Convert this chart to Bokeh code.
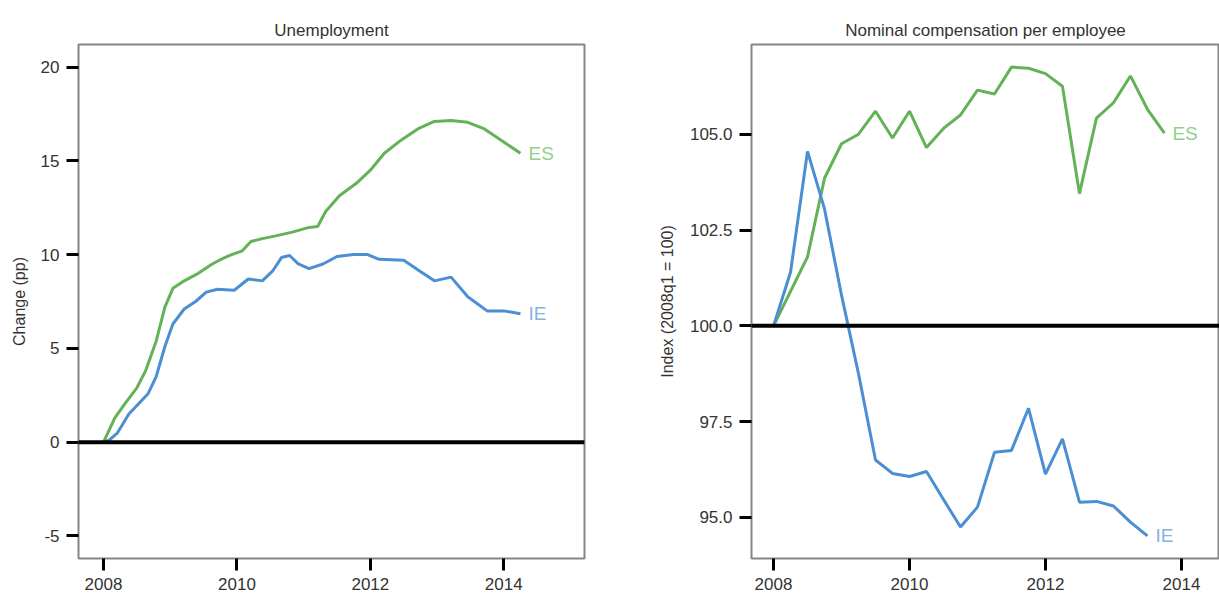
from bokeh.plotting import figure
from bokeh.layouts import row
from bokeh.models import FixedTicker, NumeralTickFormatter, Span, Range1d
from bokeh.embed import file_html
from bokeh.resources import INLINE
from bokeh.core.properties import value

# ---- Unemployment (change since 2008m1, pp) ----
es_u_t = [2008.00, 2008.17, 2008.33, 2008.50, 2008.63, 2008.79, 2008.92, 2009.04, 2009.21,
          2009.42, 2009.63, 2009.79, 2009.92, 2010.08, 2010.21, 2010.38, 2010.58, 2010.83,
          2011.08, 2011.21, 2011.33, 2011.54, 2011.79, 2012.00, 2012.21, 2012.46, 2012.71,
          2012.96, 2013.21, 2013.46, 2013.71, 2013.96, 2014.25]
es_u_v = [0.0, 1.3, 2.1, 2.9, 3.8, 5.4, 7.2, 8.2, 8.6,
          9.0, 9.5, 9.8, 10.0, 10.2, 10.7, 10.85, 11.0, 11.2,
          11.45, 11.5, 12.3, 13.15, 13.8, 14.5, 15.4, 16.1, 16.7,
          17.1, 17.15, 17.05, 16.7, 16.1, 15.4]
ie_u_t = [2008.00, 2008.08, 2008.21, 2008.38, 2008.54, 2008.67, 2008.79, 2008.92, 2009.04,
          2009.21, 2009.38, 2009.54, 2009.71, 2009.96, 2010.17, 2010.38, 2010.54, 2010.67,
          2010.79, 2010.92, 2011.08, 2011.29, 2011.50, 2011.75, 2011.96, 2012.13, 2012.50,
          2012.75, 2012.96, 2013.21, 2013.46, 2013.75, 2014.00, 2014.25]
ie_u_v = [0.0, 0.1, 0.5, 1.5, 2.1, 2.6, 3.5, 5.1, 6.3,
          7.1, 7.5, 8.0, 8.15, 8.1, 8.7, 8.6, 9.15, 9.85,
          9.95, 9.5, 9.25, 9.5, 9.9, 10.0, 10.0, 9.75, 9.7,
          9.1, 8.6, 8.8, 7.75, 7.0, 7.0, 6.85]

# ---- Nominal compensation per employee (2008q1 = 100), quarterly ----
es_c_t = [2008 + q / 4 for q in range(24)]   # 2008q1 .. 2013q4
es_c_v = [100.0, 100.9, 101.8, 103.85, 104.75, 105.0, 105.6, 104.9, 105.6, 104.65, 105.15, 105.5,
          106.15, 106.05, 106.75, 106.72, 106.58, 106.25, 103.45, 105.42, 105.82, 106.52, 105.65, 105.03]
ie_c_t = [2008 + q / 4 for q in range(23)]   # 2008q1 .. 2013q3
ie_c_v = [100.0, 101.4, 104.55, 103.05, 100.8, 98.75, 96.5, 96.15, 96.07, 96.2, 95.47, 94.75,
          95.27, 96.7, 96.75, 97.85, 96.13, 97.05, 95.4, 95.42, 95.3, 94.88, 94.52]

years = [2008, 2010, 2012, 2014]
u_ticks = [-5, 0, 5, 10, 15, 20]
c_ticks = [95.0, 97.5, 100.0, 102.5, 105.0]

GREEN = "#63b257"
BLUE = "#4b8fd3"
GREEN_L = "#92cf8a"
BLUE_L = "#86b2e2"
FONT = "Liberation Sans"
TXT = "#333333"


def style(p, ylabel, yticks, fmt, label_standoff):
    p.title.text_font = FONT
    p.title.text_font_size = "17px"
    p.title.text_font_style = "normal"
    p.title.text_color = TXT
    p.title.align = "center"
    p.title.standoff = 10
    p.xgrid.visible = False
    p.ygrid.visible = False
    p.outline_line_color = "#858585"
    p.outline_line_width = 2
    p.background_fill_color = "white"
    p.border_fill_color = "white"
    for ax in (p.xaxis[0], p.yaxis[0]):
        ax.axis_line_color = None
        ax.major_tick_in = 0
        ax.major_tick_out = 12
        ax.major_tick_line_width = 3
        ax.major_tick_line_color = "black"
        ax.minor_tick_line_color = None
        ax.major_label_text_font = FONT
        ax.major_label_text_font_size = "17px"
        ax.major_label_text_color = TXT
        ax.major_label_standoff = 7
    p.xaxis[0].ticker = FixedTicker(ticks=years)
    p.yaxis[0].ticker = FixedTicker(ticks=yticks)
    p.yaxis[0].formatter = NumeralTickFormatter(format=fmt)
    p.yaxis[0].axis_label = ylabel
    p.yaxis[0].axis_label_text_font = FONT
    p.yaxis[0].axis_label_text_font_size = "16px"
    p.yaxis[0].axis_label_text_font_style = "normal"
    p.yaxis[0].axis_label_text_color = TXT
    p.yaxis[0].axis_label_standoff = label_standoff


p1 = figure(title="Unemployment", output_backend="svg", toolbar_location=None,
            frame_width=506, frame_height=514,
            min_border_left=78, min_border_right=40, min_border_top=44, min_border_bottom=38,
            x_range=Range1d(2007.625, 2015.21), y_range=Range1d(-6.2, 21.2))
style(p1, "Change (pp)", u_ticks, "0", 10)
p1.add_layout(Span(location=0, dimension="width", line_color="black", line_width=4))
p1.line(es_u_t, es_u_v, line_color=GREEN, line_width=3)
p1.line(ie_u_t, ie_u_v, line_color=BLUE, line_width=3)
p1.text(x=[es_u_t[-1]], y=[es_u_v[-1]], text=["ES"], x_offset=8, text_baseline="middle",
        text_font=value(FONT), text_font_size="19px", text_color=GREEN_L)
p1.text(x=[ie_u_t[-1]], y=[ie_u_v[-1]], text=["IE"], x_offset=8, text_baseline="middle",
        text_font=value(FONT), text_font_size="19px", text_color=BLUE_L)

p2 = figure(title="Nominal compensation per employee", output_backend="svg", toolbar_location=None,
            frame_width=468, frame_height=514,
            min_border_left=127, min_border_right=0, min_border_top=44, min_border_bottom=38,
            x_range=Range1d(2007.676, 2014.56), y_range=Range1d(93.93, 107.34))
style(p2, "Index (2008q1 = 100)", c_ticks, "0.0", 11)
p2.add_layout(Span(location=100, dimension="width", line_color="black", line_width=4))
p2.line(es_c_t, es_c_v, line_color=GREEN, line_width=3)
p2.line(ie_c_t, ie_c_v, line_color=BLUE, line_width=3)
p2.text(x=[es_c_t[-1]], y=[es_c_v[-1]], text=["ES"], x_offset=8, text_baseline="middle",
        text_font=value(FONT), text_font_size="19px", text_color=GREEN_L)
p2.text(x=[ie_c_t[-1]], y=[ie_c_v[-1]], text=["IE"], x_offset=8, text_baseline="middle",
        text_font=value(FONT), text_font_size="19px", text_color=BLUE_L)

layout = row(p1, p2)
open("out.html", "w").write(file_html(layout, INLINE))
